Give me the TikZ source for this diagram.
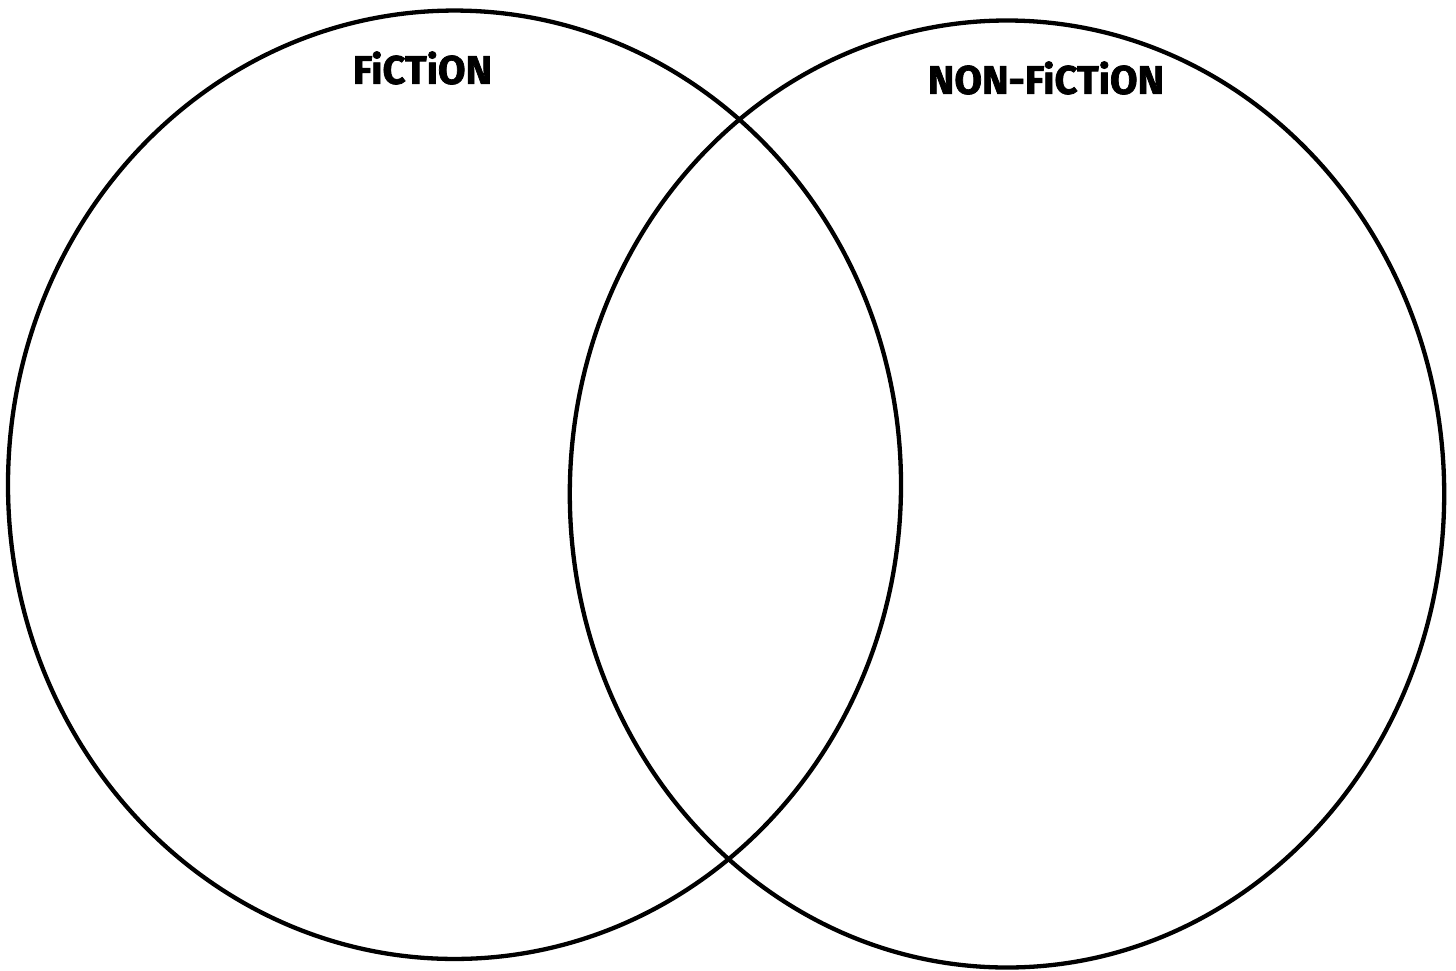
\documentclass[tikz,border=0pt]{standalone}
\usepackage{fontspec}
\setsansfont{Fira Sans}[BoldFeatures={FakeBold=1.8}]
\begin{document}
\begin{tikzpicture}[x=1pt,y=-1pt,
  ring/.style={draw=black,line width=4.3pt},
  title/.style={font=\sffamily\bfseries\fontsize{40}{44}\selectfont,inner sep=0pt,anchor=center}]
\useasboundingbox (0,0) rectangle (1456,970);
\fill[white] (0,0) rectangle (1456,970);
\draw[ring] (454.5,484.75) ellipse [x radius=446.5, y radius=474.2];
\draw[ring] (1007,494) ellipse [x radius=437.2, y radius=473.5];
\node[title] (fic) at (422.5,68) {FiCTiON};
\node[title] (nonfic) at (1046,78) {NON-FiCTiON};
\end{tikzpicture}
\end{document}
